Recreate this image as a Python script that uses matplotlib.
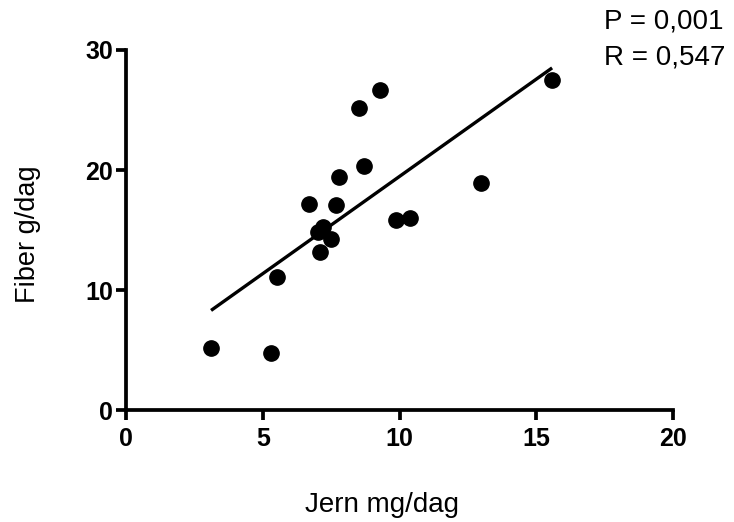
import numpy as np
import matplotlib
matplotlib.use("Agg")
import matplotlib.pyplot as plt

plt.rcParams['font.family'] = ['Liberation Sans', 'DejaVu Sans']

# data (iron vs fibre intake)
jern = [3.11, 5.30, 5.51, 6.69, 7.68, 7.09, 7.19, 7.03, 7.51, 9.87,
        10.38, 7.79, 8.69, 8.51, 9.30, 15.58, 12.98]
fiber = [5.14, 4.75, 11.06, 17.19, 17.06, 13.2, 15.25, 14.86, 14.28, 15.8,
         16.03, 19.44, 20.33, 25.17, 26.67, 27.47, 18.92]
xticks = [0, 5, 10, 15, 20]
yticks = [0, 10, 20, 30]
stats = ["P = 0,001", "R = 0,547"]

W, H = 734, 522
fig = plt.figure(figsize=(W / 100, H / 100), dpi=100)
ax = fig.add_axes([126 / W, (H - 410) / H, (673 - 126) / W, (410 - 50) / H])

#scatter points
ax.plot(jern, fiber, 'o', color='black', markersize=11, clip_on=False, zorder=3)

#linear regression line over the range of the data
slope, icept = np.polyfit(jern, fiber, 1)
xl = np.array([min(jern), max(jern)])
ax.plot(xl, slope * xl + icept, '-', color='black', lw=2.4, solid_capstyle='butt')

ax.set_xlim(0, 20)
ax.set_ylim(0, 30)
ax.set_xticks(xticks)
ax.set_yticks(yticks)
for s in ['top', 'right']:
    ax.spines[s].set_visible(False)
for s in ['left', 'bottom']:
    ax.spines[s].set_linewidth(2.7)
ax.tick_params(direction='out', length=7.5, width=2.7, labelsize=18)
ax.tick_params(axis='x', pad=5)
ax.tick_params(axis='y', pad=2)
for lab in ax.get_xticklabels() + ax.get_yticklabels():
    lab.set_fontweight('bold')

ax.set_xlabel('Jern mg/dag', fontsize=20)
ax.xaxis.label.set_va('baseline')
ax.xaxis.set_label_coords((382 - 126) / 547, (410 - 512) / 360)
ax.set_ylabel('Fiber g/dag', fontsize=19.5)
ax.yaxis.label.set_va('center')
ax.yaxis.set_label_coords((28 - 126) / 547, (410 - 234) / 360)

#statistics text top right
fig.text(604 / W, 1 - 29 / H, stats[0], fontsize=20, va='baseline', ha='left')
fig.text(604 / W, 1 - 64 / H, stats[1], fontsize=20, va='baseline', ha='left')

fig.savefig('out.png', dpi=100)
